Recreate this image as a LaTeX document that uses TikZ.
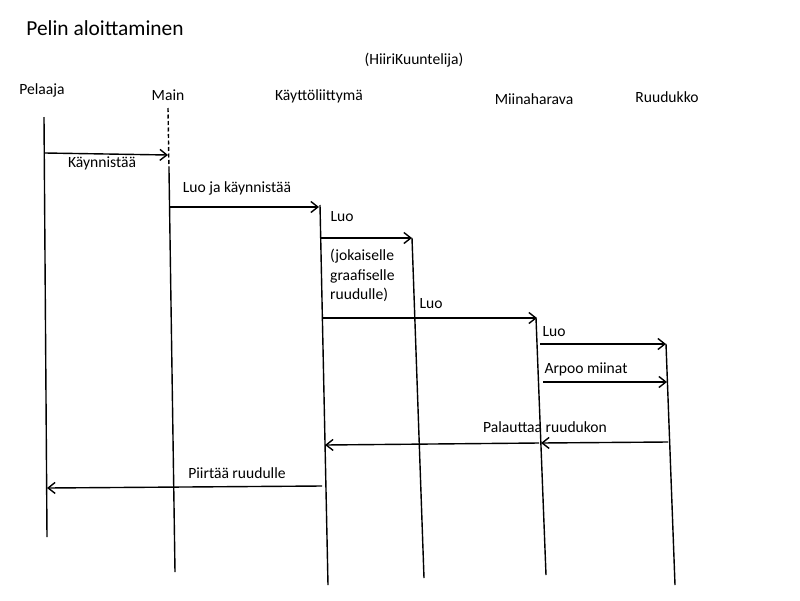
\documentclass[tikz,border=0pt]{standalone}
\usepackage{fontspec}
\setmainfont{Carlito}
\usetikzlibrary{arrows.meta}
\tikzset{
  life/.style={line width=1.4pt},
  msg/.style={line width=1.4pt,-{Straight Barb[length=7pt,width=11pt,line width=1.4pt]}},
  lbl/.style={inner sep=0pt,font=\fontsize{15.6}{19.5}\selectfont},
  head/.style={inner sep=0pt,font=\fontsize{15.6}{19}\selectfont},
}
\begin{document}
\begin{tikzpicture}[x=1pt,y=-1pt]
\useasboundingbox (0,0) rectangle (800,600);
% headings
\node[inner sep=0pt,font=\fontsize{21.4}{26}\selectfont] (title) at (105,28) {Pelin aloittaminen};
\node[head] (hk) at (414,60) {(HiiriKuuntelija)};
\node[head] (hpel) at (42,90) {Pelaaja};
\node[head] (hmain) at (168,95) {Main};
\node[head] (hkl) at (319,96) {Käyttöliittymä};
\node[head] (hmh) at (534,99) {Miinaharava};
\node[head] (hru) at (667,97) {Ruudukko};
% lifelines
\coordinate (pelT) at (44,117); \coordinate (pelB) at (47,537);
\coordinate (mainT) at (168,108); \coordinate (mainM) at (169,170); \coordinate (mainB) at (175,572);
\coordinate (klT) at (320,205); \coordinate (klB) at (328,585);
\coordinate (grT) at (412,238); \coordinate (grB) at (424,578);
\coordinate (mhT) at (536,318); \coordinate (mhB) at (546,575);
\coordinate (ruT) at (666,344); \coordinate (ruB) at (675,585);
\draw[life,dash pattern=on 4pt off 2.5pt] (mainT) -- (mainM);
\draw[life] (mainM) -- (mainB);
\draw[life] (pelT) -- (pelB);
\draw[life] (klT) -- (klB);
\draw[life] (grT) -- (grB);
\draw[life] (mhT) -- (mhB);
\draw[life] (ruT) -- (ruB);
% message endpoints
\coordinate (m1a) at (45,153); \coordinate (m1b) at (168,155);
\coordinate (m2a) at (170,207); \coordinate (m2b) at (319,207);
\coordinate (m3a) at (321,238); \coordinate (m3b) at (412,238);
\coordinate (m4a) at (322,318); \coordinate (m4b) at (537,318);
\coordinate (m5a) at (540,344); \coordinate (m5b) at (666,344);
\coordinate (m6a) at (543,382); \coordinate (m6b) at (667,382);
\coordinate (m7a) at (668,442); \coordinate (m7b) at (541,443);
\coordinate (m8a) at (539,443); \coordinate (m8b) at (325,445);
\coordinate (m9a) at (322,486); \coordinate (m9b) at (47,488);
\draw[msg] (m1a) -- (m1b);
\draw[msg] (m2a) -- (m2b);
\draw[msg] (m3a) -- (m3b);
\draw[msg] (m4a) -- (m4b);
\draw[msg] (m5a) -- (m5b);
\draw[msg] (m6a) -- (m6b);
\draw[msg] (m7a) -- (m7b);
\draw[msg] (m8a) -- (m8b);
\draw[msg] (m9a) -- (m9b);
% labels
\node[lbl] (l1) at (102,163) {Käynnistää};
\node[lbl] (l2) at (237,188) {Luo ja käynnistää};
\node[lbl] (l3) at (342,217) {Luo};
\node[lbl,align=left,anchor=north west] (l3b) at (330,249) {(jokaiselle\\graafiselle\\ruudulle)};
\node[lbl] (l4) at (431,304) {Luo};
\node[lbl] (l5) at (554,332) {Luo};
\node[lbl] (l6) at (586,369) {Arpoo miinat};
\node[lbl] (l7) at (545,427) {Palauttaa ruudukon};
\node[lbl] (l9) at (237,473) {Piirtää ruudulle};
\end{tikzpicture}
\end{document}
